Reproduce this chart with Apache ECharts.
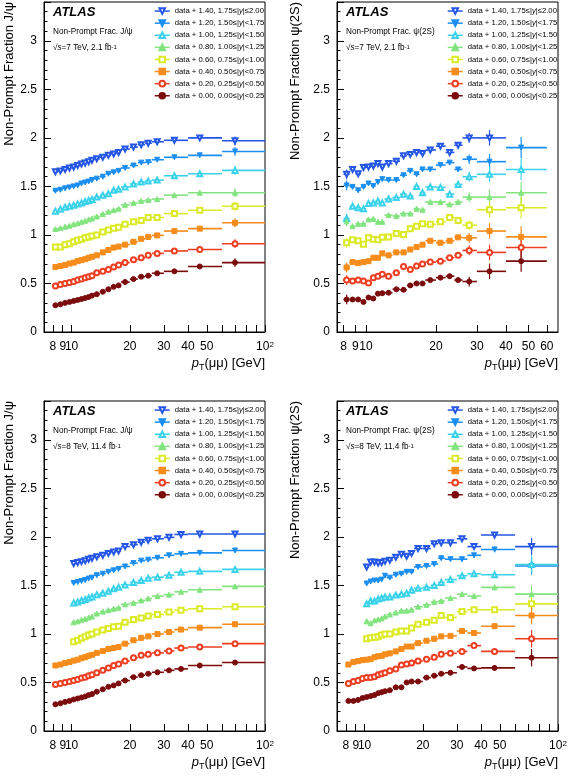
<!DOCTYPE html>
<html><head><meta charset="utf-8">
<script src="https://cdn.jsdelivr.net/npm/echarts@6/dist/echarts.min.js"></script>
<style>html,body{margin:0;padding:0;background:#fff}#c{width:568px;height:778px}</style>
</head><body><div id="c"></div>
<script>
// ---------- shared ----------
const offsets = [1.40, 1.20, 1.00, 0.80, 0.60, 0.40, 0.20, 0.00];
const rapidityBins = ['1.75≤|y|≤2.00','1.50≤|y|<1.75','1.25≤|y|<1.50','1.00≤|y|<1.25','0.75≤|y|<1.00','0.50≤|y|<0.75','0.25≤|y|<0.50','0.00≤|y|<0.25'];
const colors = ['#2456e6','#1b8ef2','#3ad2ea','#82e47e','#dcea26','#f58c1c','#ee3e22','#7c0c0c'];
const symbols = ['emptyTriangle','triangle','emptyTriangle','triangle','emptyRect','rect','emptyCircle','circle'];
const symbolRotations = [180,180,0,0,0,0,0,0];
const ticksWide = [8,9,10,20,30,40,50,60,70,80,90,100];
const labelsWide = [8,9,10,20,30,40,50,100];
const ticksNarrow = [8,9,10,20,30,40,50,60];
const labelsNarrow = [8,9,10,20,30,40,50,60];
const n = null;

// ---------- J/psi 7 TeV ----------
const jpsi7Edges = [8,8.5,9,9.5,10,10.5,11,11.5,12,12.5,13,14,15,16,17,18,20,22,24,26,30,40,60,100];
const jpsi7Pt = [8.25,8.75,9.25,9.75,10.25,10.75,11.25,11.75,12.25,12.75,13.5,14.5,15.5,16.5,17.5,18.9,20.9,22.9,24.9,27.7,34,46,70];
const jpsi7Err = [0.004,0.004,0.004,0.004,0.004,0.004,0.004,0.004,0.004,0.004,0.004,0.004,0.005,0.005,0.005,0.005,0.005,0.006,0.006,0.007,0.01,0.015,0.045];
const jpsi7Frac = [
 [0.25,0.26,0.275,0.29,0.30,0.315,0.33,0.34,0.355,0.37,0.385,0.40,0.42,0.435,0.45,0.485,0.505,0.53,0.545,0.56,0.575,0.60,0.57],
 [0.255,0.265,0.28,0.29,0.30,0.31,0.33,0.34,0.35,0.365,0.38,0.40,0.43,0.445,0.46,0.49,0.515,0.545,0.55,0.575,0.60,0.62,0.66],
 [0.245,0.265,0.285,0.295,0.305,0.32,0.33,0.345,0.355,0.365,0.39,0.41,0.425,0.46,0.47,0.495,0.525,0.545,0.555,0.565,0.61,0.63,0.665],
 [0.26,0.27,0.285,0.295,0.31,0.32,0.335,0.345,0.36,0.37,0.39,0.415,0.44,0.455,0.47,0.51,0.53,0.55,0.56,0.57,0.61,0.635,0.635],
 [0.275,0.275,0.30,0.31,0.33,0.345,0.355,0.37,0.38,0.39,0.40,0.43,0.45,0.47,0.48,0.51,0.535,0.55,0.58,0.58,0.62,0.655,0.695],
 [0.27,0.28,0.29,0.305,0.315,0.33,0.34,0.35,0.365,0.375,0.39,0.42,0.445,0.47,0.48,0.50,0.53,0.56,0.58,0.595,0.64,0.665,0.725],
 [0.275,0.29,0.30,0.31,0.32,0.335,0.345,0.36,0.37,0.38,0.41,0.425,0.445,0.47,0.49,0.515,0.545,0.565,0.59,0.61,0.635,0.65,0.71],
 [0.275,0.285,0.30,0.31,0.32,0.33,0.34,0.35,0.36,0.375,0.39,0.415,0.44,0.465,0.48,0.515,0.545,0.57,0.58,0.605,0.625,0.675,0.715]
];

// ---------- psi(2S) 7 TeV ----------
const psi7Edges = [8,8.5,9,9.5,10,10.5,11,11.5,12,13,14,15,16,17,18,20,22,24,26,30,40,60];
const psi7Pt = [8.25,8.75,9.25,9.75,10.25,10.75,11.25,11.75,12.5,13.5,14.5,15.5,16.5,17.5,18.9,20.9,22.9,24.9,27.8,34,46.5];
const psi7Err = [0.05,0.02,0.02,0.02,0.02,0.02,0.02,0.02,0.02,0.02,0.02,0.02,0.02,0.02,0.02,0.02,0.025,0.025,0.05,0.08,0.11];
const psi7Frac = [
 [0.225,0.275,0.23,0.295,0.30,0.31,0.335,0.30,0.335,0.36,0.415,0.43,0.45,0.44,0.475,0.515,0.45,0.525,0.60,0.60,n],
 [0.31,0.295,0.26,0.295,0.33,0.305,0.345,0.375,0.365,0.365,0.415,0.46,0.425,0.475,0.475,0.52,0.545,0.475,0.58,0.555,0.70],
 [0.17,0.295,0.28,0.27,0.325,0.33,0.35,0.33,0.37,0.385,0.42,0.40,0.50,0.435,0.495,0.49,0.42,0.52,0.60,0.625,0.675],
 [0.34,0.29,0.315,0.315,0.36,0.365,0.335,0.335,0.405,0.395,0.42,0.42,0.47,0.46,0.54,0.54,0.515,0.54,0.59,0.59,0.635],
 [0.32,0.35,0.34,0.305,0.37,0.355,0.35,0.375,0.38,0.415,0.405,0.465,0.49,0.515,0.51,0.535,0.58,0.55,0.50,0.66,0.68],
 [0.265,0.32,0.31,0.32,0.33,0.365,0.365,0.41,0.39,0.42,0.42,0.45,0.475,0.50,0.54,0.52,0.54,0.575,0.57,0.64,0.58],
 [0.335,0.325,0.335,0.325,0.305,0.36,0.375,0.395,0.375,0.41,0.475,0.445,0.48,0.50,0.52,0.53,0.565,0.59,0.64,0.62,0.67],
 [0.335,0.335,0.335,0.31,0.355,0.345,0.395,0.40,0.405,0.44,0.435,0.48,0.50,0.50,0.535,0.56,0.575,0.535,0.52,0.625,0.73]
];

// ---------- J/psi 8 TeV ----------
const jpsi8Edges = [8,8.5,9,9.5,10,10.5,11,11.5,12,12.5,13,14,15,16,17,18,20,22,24,26,30,34,40,60,100];
const jpsi8Pt = [8.25,8.75,9.25,9.75,10.25,10.75,11.25,11.75,12.25,12.75,13.5,14.5,15.5,16.5,17.5,18.9,20.9,22.9,24.9,27.8,31.9,36.8,46,70];
const jpsi8Err = [0.003,0.003,0.003,0.003,0.003,0.003,0.003,0.003,0.003,0.003,0.003,0.003,0.003,0.003,0.003,0.003,0.003,0.004,0.004,0.004,0.005,0.005,0.006,0.009];
const jpsi8Frac = [
 [n,n,n,n,0.325,0.335,0.345,0.355,0.37,0.38,0.395,0.41,0.43,0.445,0.455,0.50,0.52,0.545,0.565,0.58,0.595,0.625,0.63,0.63],
 [n,n,n,n,0.325,0.335,0.345,0.355,0.37,0.38,0.405,0.42,0.44,0.455,0.47,0.495,0.53,0.555,0.565,0.585,0.61,0.625,0.635,0.66],
 [n,n,n,n,0.32,0.33,0.345,0.355,0.37,0.38,0.405,0.42,0.44,0.465,0.48,0.505,0.53,0.55,0.575,0.585,0.605,0.635,0.645,0.665],
 [n,n,n,n,0.32,0.33,0.345,0.355,0.37,0.38,0.41,0.43,0.445,0.46,0.47,0.505,0.52,0.545,0.565,0.59,0.605,0.635,0.655,0.69],
 [n,n,n,n,0.32,0.335,0.355,0.37,0.39,0.40,0.42,0.44,0.455,0.475,0.48,0.52,0.55,0.565,0.585,0.60,0.625,0.645,0.66,0.68],
 [0.275,0.285,0.30,0.31,0.325,0.335,0.35,0.36,0.375,0.385,0.405,0.425,0.445,0.455,0.465,0.50,0.535,0.56,0.575,0.60,0.62,0.645,0.665,0.70],
 [0.28,0.29,0.30,0.31,0.32,0.33,0.345,0.355,0.37,0.38,0.40,0.425,0.45,0.475,0.49,0.52,0.555,0.58,0.59,0.605,0.625,0.655,0.665,0.70],
 [0.275,0.285,0.30,0.31,0.325,0.335,0.345,0.355,0.37,0.38,0.405,0.43,0.455,0.47,0.49,0.52,0.555,0.575,0.59,0.605,0.625,0.64,0.675,0.705]
];

// ---------- psi(2S) 8 TeV ----------
const psi8Edges = [8,8.5,9,9.5,10,10.5,11,11.5,12,12.5,13,14,15,16,17,18,20,22,24,26,30,34,40,60,100];
const psi8Pt = [8.25,8.75,9.25,9.75,10.25,10.75,11.25,11.75,12.25,12.75,13.5,14.5,15.5,16.5,17.5,18.9,20.9,22.9,24.9,27.8,31.9,36.8,47,73];
const psi8Err = [0.01,0.01,0.01,0.01,0.012,0.012,0.012,0.012,0.012,0.012,0.012,0.012,0.012,0.012,0.012,0.012,0.012,0.015,0.015,0.015,0.02,0.025,0.03,0.09];
const psi8Frac = [
 [n,n,n,n,0.29,0.34,0.34,0.33,0.335,0.35,0.36,0.39,0.42,0.40,0.43,0.48,0.48,0.53,0.54,0.54,0.58,0.50,0.62,0.50],
 [n,n,n,n,0.32,0.34,0.35,0.35,0.36,0.40,0.38,0.41,0.42,0.44,0.44,0.49,0.50,0.52,0.58,0.57,0.57,0.61,0.67,0.50],
 [n,n,n,n,0.31,0.34,0.34,0.36,0.37,0.38,0.38,0.40,0.41,0.42,0.45,0.47,0.48,0.50,0.53,0.56,0.60,0.62,0.61,0.715],
 [n,n,n,n,0.33,0.31,0.34,0.35,0.36,0.38,0.40,0.42,0.44,0.44,0.45,0.48,0.50,0.53,0.54,0.57,0.61,0.59,0.68,0.61],
 [n,n,n,n,0.35,0.36,0.365,0.37,0.39,0.40,0.40,0.42,0.43,0.43,0.46,0.50,0.52,0.54,0.59,0.57,0.63,0.65,0.65,0.71],
 [0.285,0.31,0.32,0.33,0.335,0.34,0.36,0.37,0.375,0.39,0.40,0.42,0.445,0.47,0.47,0.505,0.53,0.55,0.575,0.58,0.63,0.61,0.68,0.79],
 [0.29,0.31,0.32,0.34,0.35,0.35,0.36,0.38,0.39,0.40,0.42,0.44,0.48,0.49,0.50,0.52,0.54,0.56,0.59,0.60,0.62,0.68,0.62,0.75],
 [0.31,0.31,0.32,0.34,0.35,0.36,0.37,0.39,0.40,0.41,0.42,0.45,0.45,0.50,0.51,0.51,0.55,0.57,0.59,0.60,0.66,0.645,0.65,0.755]
];

// ---------- panel setup ----------
const panels = [
 {edges:jpsi7Edges, pt:jpsi7Pt, err:jpsi7Err, frac:jpsi7Frac, xMin:7.2, xMax:100, ticks:ticksWide, labels:labelsWide,
  grid:{left:44, top:2, width:221, height:330}, yTitle:'Non-Prompt Fraction J/ψ', note:'Non-Prompt Frac. J/ψ', sqrts:'7 TeV, 2.1', yTitleX:9},
 {edges:psi7Edges, pt:psi7Pt, err:psi7Err, frac:psi7Frac, xMin:7.5, xMax:67, ticks:ticksNarrow, labels:labelsNarrow,
  grid:{left:337, top:2, width:221, height:330}, yTitle:'Non-Prompt Fraction ψ(2S)', note:'Non-Prompt Frac. ψ(2S)', sqrts:'7 TeV, 2.1', yTitleX:295},
 {edges:jpsi8Edges, pt:jpsi8Pt, err:jpsi8Err, frac:jpsi8Frac, xMin:7.2, xMax:100, ticks:ticksWide, labels:labelsWide,
  grid:{left:44, top:401, width:221, height:330}, yTitle:'Non-Prompt Fraction J/ψ', note:'Non-Prompt Frac. J/ψ', sqrts:'8 TeV, 11.4', yTitleX:9},
 {edges:psi8Edges, pt:psi8Pt, err:psi8Err, frac:psi8Frac, xMin:7.2, xMax:100, ticks:ticksWide, labels:labelsWide,
  grid:{left:337, top:401, width:221, height:330}, yTitle:'Non-Prompt Fraction ψ(2S)', note:'Non-Prompt Frac. ψ(2S)', sqrts:'8 TeV, 11.4', yTitleX:295}
];

const FONT = '"Liberation Sans", Arial, Helvetica, sans-serif';
const seriesNames = offsets.map((o, i) => 'data + ' + o.toFixed(2) + ', ' + rapidityBins[i]);
const xTitle = '{i|p}{sub|T}{n|(μμ) [GeV]}';

function errRenderer(color) {
  return function (params, api) {
    const lo = api.value(0), hi = api.value(1), m = api.value(2), y = api.value(3), e = api.value(4);
    const pL = api.coord([lo, y]), pR = api.coord([hi, y]);
    const pT = api.coord([m, y + e]), pB = api.coord([m, y - e]);
    return {type:'group', children:[
      {type:'line', shape:{x1:pL[0], y1:pL[1], x2:pR[0], y2:pR[1]}, style:{stroke:color, lineWidth:1.6}},
      {type:'line', shape:{x1:pT[0], y1:pT[1], x2:pB[0], y2:pB[1]}, style:{stroke:color, lineWidth:1.2}}
    ]};
  };
}

const option = {
  animation:false, backgroundColor:'#fff',
  textStyle:{fontFamily:FONT, color:'#000'},
  grid:[], xAxis:[], yAxis:[], series:[], legend:[], graphic:[]
};

panels.forEach((P, p) => {
  option.grid.push(Object.assign({show:true, borderColor:'#000', borderWidth:1, backgroundColor:'transparent',
    containLabel:false, outerBoundsMode:'none'}, P.grid));
  // data axis (logarithmic)
  option.xAxis.push({type:'log', logBase:10, gridIndex:p, min:P.xMin, max:P.xMax, position:'top', show:false});
  // labelled axis (same span, log10 units) for ROOT style tick marks
  option.xAxis.push({
    type:'value', gridIndex:p, position:'bottom', min:Math.log10(P.xMin), max:Math.log10(P.xMax),
    axisLine:{show:true, onZero:false, lineStyle:{color:'#000', width:1}},
    axisTick:{show:true, inside:true, length:7, customValues:P.ticks.map(Math.log10), lineStyle:{color:'#000'}},
    axisLabel:{show:true, margin:9, fontSize:12, color:'#000', fontFamily:FONT,
      customValues:P.labels.map(Math.log10),
      formatter:v => { const r = Math.round(Math.pow(10, v)); return r === 100 ? '10{sup|2}' : String(r); },
      rich:{sup:{fontSize:8, verticalAlign:'top', color:'#000', fontFamily:FONT}}},
    splitLine:{show:false}
  });
  option.yAxis.push({
    type:'value', gridIndex:p, min:0, max:3.4, interval:0.5,
    axisLine:{show:true, lineStyle:{color:'#000', width:1}},
    axisTick:{show:true, inside:true, length:7, lineStyle:{color:'#000'}},
    minorTick:{show:true, splitNumber:5, length:3.5, lineStyle:{color:'#000'}},
    axisLabel:{showMaxLabel:false, fontSize:12, color:'#000', margin:7, fontFamily:FONT},
    splitLine:{show:false}, minorSplitLine:{show:false}
  });

  for (let s = 0; s < 8; s++) {
    const pts = [], bars = [];
    P.frac[s].forEach((v, i) => {
      if (v === null) return;
      const y = v + offsets[s];
      pts.push([P.pt[i], y]);
      bars.push([P.edges[i], P.edges[i + 1], P.pt[i], y, P.err[i]]);
    });
    option.series.push({
      type:'custom', name:'err-' + p + '-' + s, xAxisIndex:2 * p, yAxisIndex:p, data:bars,
      encode:{x:[0, 1, 2], y:[3]}, renderItem:errRenderer(colors[s]), silent:true, z:2, clip:true
    });
    option.series.push({
      type:'line', name:seriesNames[s], xAxisIndex:2 * p, yAxisIndex:p, data:pts,
      symbol:symbols[s], symbolRotate:symbolRotations[s], symbolSize:5, showSymbol:true, showAllSymbol:true,
      lineStyle:{width:0, opacity:0}, itemStyle:{color:colors[s], borderColor:colors[s], borderWidth:1},
      z:3, silent:true
    });
  }

  option.legend.push({
    data:seriesNames.slice(), orient:'vertical', left:P.grid.left + 110, top:P.grid.top + 3,
    itemWidth:15, itemHeight:7, itemGap:0, padding:0, selectedMode:false,
    lineStyle:{width:1.5, opacity:1}, symbolRotate:'inherit',
    formatter:name => name.replace('|y|', '|{i|y}|'),
    textStyle:{fontSize:7.7, lineHeight:12.1, color:'#000', fontFamily:FONT, rich:{i:{fontStyle:'italic', fontSize:7.7, fontFamily:FONT}}}
  });

  const gx = P.grid.left + 9, gt = P.grid.top;
  const gRight = P.grid.left + P.grid.width, gBottom = P.grid.top + P.grid.height;
  option.graphic.push(
    {type:'text', x:gx, y:gt + 10, silent:true, style:{text:'ATLAS', font:'italic bold 13px ' + FONT, fill:'#000', verticalAlign:'middle'}},
    {type:'text', x:gx, y:gt + 30, silent:true, style:{text:P.note, font:'8.2px ' + FONT, fill:'#000', verticalAlign:'middle'}},
    {type:'text', x:gx, y:gt + 46, silent:true, style:{
      text:'√{i|s}=' + P.sqrts + ' fb{sup|-1}', font:'8.2px ' + FONT, fill:'#000', verticalAlign:'middle',
      rich:{i:{fontStyle:'italic', fontSize:8.2, fontFamily:FONT}, sup:{fontSize:6, verticalAlign:'top', fontFamily:FONT}}}},
    {type:'text', x:P.yTitleX, y:gt, rotation:Math.PI / 2, silent:true,
      style:{text:P.yTitle, font:'13px ' + FONT, fill:'#000', align:'right', verticalAlign:'middle'}},
    {type:'text', x:gRight, y:gBottom + 31, silent:true,
      style:{text:xTitle, font:'13px ' + FONT, fill:'#000', align:'right', verticalAlign:'middle',
        rich:{i:{fontStyle:'italic', fontSize:13, fontFamily:FONT, lineHeight:18, verticalAlign:'middle'},
              n:{fontSize:13, fontFamily:FONT, lineHeight:18, verticalAlign:'middle'},
              sub:{fontSize:9, fontFamily:FONT, verticalAlign:'bottom'}}}}
  );
});

const chart = echarts.init(document.getElementById('c'), null, {renderer:'canvas'});
chart.setOption(option);
</script>
</body></html>
